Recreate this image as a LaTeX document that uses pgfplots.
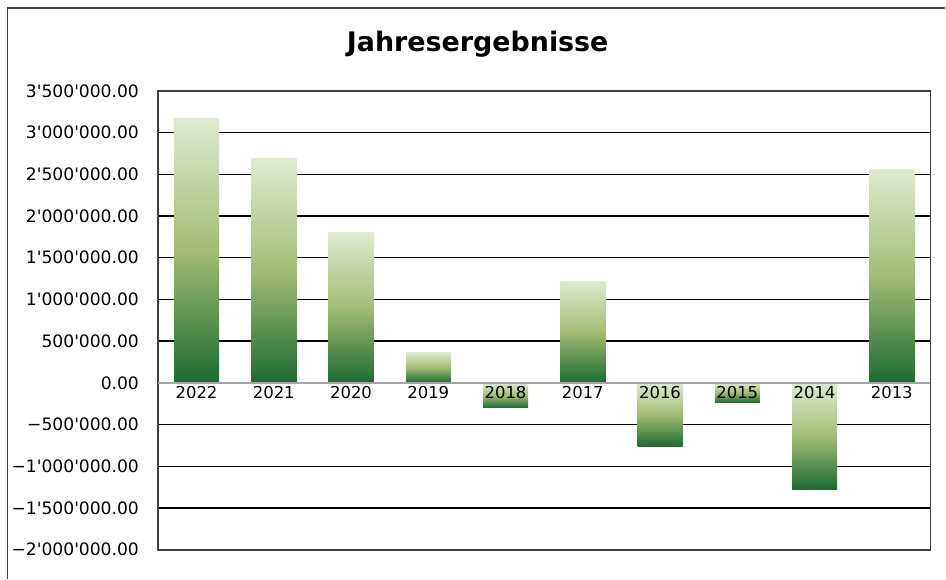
\documentclass[border=0pt]{standalone}
\usepackage{pgfplots}
\pgfplotsset{compat=1.18}
\usepackage{fontspec}
\setmainfont{DejaVu Sans}[Ligatures=TeXOff]
\definecolor{barTop}{RGB}{222,234,209}
\definecolor{barMid}{RGB}{163,187,115}
\definecolor{barBot}{RGB}{27,107,48}
\definecolor{zeroline}{RGB}{166,166,166}
\pgfplotsset{
  gbar/.style={ybar, bar width=45bp, bar shift=0pt, draw=none,
    top color=barTop, bottom color=barBot, middle color=barMid},
  layers/labels on top/.define layer set={axis background,axis grid,axis ticks,axis lines,pre main,main,axis tick labels,axis descriptions,axis foreground}{/pgfplots/layers/standard},
}
\begin{document}
\begin{tikzpicture}
\draw[black!75, line width=1.2bp] (7.5bp,0bp) -- (7.5bp,571bp) -- (946bp,571bp);
\node[anchor=base, font=\fontsize{27}{31}\selectfont\bfseries] at (478bp,527bp) {Jahresergebnisse};
\begin{axis}[
  set layers=labels on top,
  at={(158bp,29bp)}, anchor=south west,
  scale only axis, width=773bp, height=459bp,
  xmin=-0.5, xmax=9.5, ymin=-2000000, ymax=3500000,
  xtick={0,1,2,3,4,5,6,7,8,9},
  xticklabels={2022,2021,2020,2019,2018,2017,2016,2015,2014,2013},
  ytick={-2000000,-1500000,-1000000,-500000,0,500000,1000000,1500000,2000000,2500000,3000000,3500000},
  yticklabels={−2'000'000.00,−1'500'000.00,−1'000'000.00,−500'000.00,0.00,500'000.00,1'000'000.00,1'500'000.00,2'000'000.00,2'500'000.00,3'000'000.00,3'500'000.00},
  major tick length=0pt,
  ymajorgrids, grid style={black, line width=1.3bp},
  axis line style={black!75, line width=1.8bp},
  x tick label style={font=\fontsize{16.5}{19}\selectfont, yshift=167bp},
  y tick label style={font=\fontsize{17.2}{20}\selectfont, xshift=-15.5bp},
  scaled y ticks=false,
]
\addplot[gbar] coordinates {(0,3164000)};
\addplot[gbar] coordinates {(1,2684000)};
\addplot[gbar] coordinates {(2,1808000)};
\addplot[gbar] coordinates {(3,368000)};
\addplot[gbar] coordinates {(4,-300000)};
\addplot[gbar] coordinates {(5,1220000)};
\addplot[gbar] coordinates {(6,-768000)};
\addplot[gbar] coordinates {(7,-236000)};
\addplot[gbar] coordinates {(8,-1284000)};
\addplot[gbar] coordinates {(9,2564000)};
\draw[zeroline, line width=1.8bp] (axis cs:-0.5,0) -- (axis cs:9.5,0);
\end{axis}
\useasboundingbox (0,0) rectangle (946bp,579bp);
\end{tikzpicture}
\end{document}
